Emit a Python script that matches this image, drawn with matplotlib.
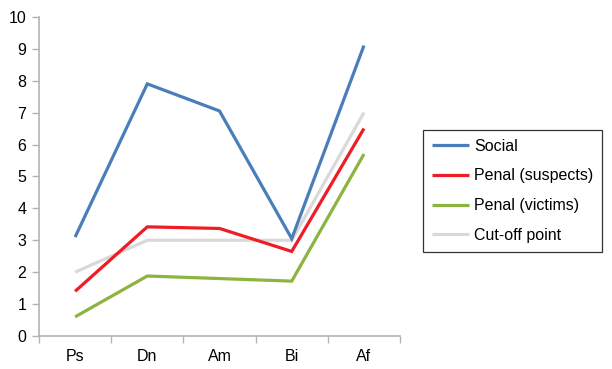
import matplotlib
matplotlib.use("Agg")
import matplotlib.pyplot as plt
import numpy as np

plt.rcParams["font.family"] = ["Liberation Sans", "DejaVu Sans"]

categories = ["Ps", "Dn", "Am", "Bi", "Af"]
social = [3.1, 7.9, 7.05, 3.05, 9.1]
penal_suspects = [1.4, 3.42, 3.37, 2.65, 6.5]
penal_victims = [0.6, 1.88, 1.8, 1.72, 5.7]
cutoff = [2, 3, 3, 3, 7]

AXIS = "#b3b3b3"

fig = plt.figure(figsize=(6.12, 3.69), dpi=100)
ax = fig.add_axes([0.0637, 0.0894, 0.59, 0.865])

x = np.arange(len(categories)) + 0.5
series = [
    ("Social", social, "#4a7ebb"),
    ("Penal (suspects)", penal_suspects, "#ee1c25"),
    ("Penal (victims)", penal_victims, "#8db43e"),
    ("Cut-off point", cutoff, "#d9d9d9"),
]
# draw cut-off underneath the others, keep legend order
for z, (name, vals, col) in zip([4, 3, 2, 1], series):
    ax.plot(x, vals, color=col, lw=2.3, label=name, zorder=z,
            solid_joinstyle="miter", solid_capstyle="butt")

ax.set_xlim(0, len(categories))
ax.set_ylim(0, 10)
ax.set_yticks(range(0, 11))
ax.set_xticks(x)
ax.set_xticklabels(categories)
ax.set_xticks(np.arange(len(categories) + 1), minor=True)
ax.tick_params(axis="x", which="major", length=0, pad=9, labelsize=11.5)
ax.tick_params(axis="x", which="minor", length=5, color=AXIS, width=1)
ax.tick_params(axis="y", length=5, color=AXIS, width=1, labelsize=11.5, pad=4)

for side in ("top", "right"):
    ax.spines[side].set_visible(False)
for side in ("left", "bottom"):
    ax.spines[side].set_color(AXIS)
    ax.spines[side].set_linewidth(1.2)

leg = ax.legend(loc="center left", bbox_to_anchor=(1.064, 0.455), frameon=True,
                fancybox=False, edgecolor="black", fontsize=11.5,
                handlelength=2.3, handletextpad=0.35, labelspacing=0.92,
                borderpad=0.55, borderaxespad=0)
leg.get_frame().set_linewidth(0.9)

fig.savefig("out.png", dpi=100)
